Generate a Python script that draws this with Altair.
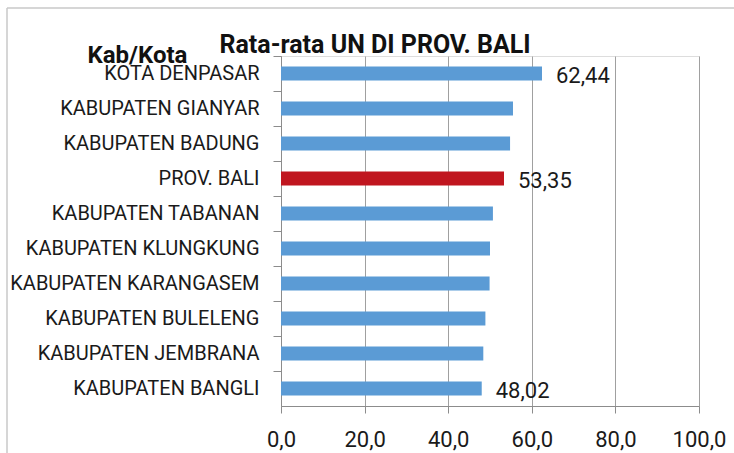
import altair as alt
import pandas as pd

# Average national exam (UN) scores per regency/city in Bali
kab_kota = [
    "KOTA DENPASAR",
    "KABUPATEN GIANYAR",
    "KABUPATEN BADUNG",
    "PROV. BALI",
    "KABUPATEN TABANAN",
    "KABUPATEN KLUNGKUNG",
    "KABUPATEN KARANGASEM",
    "KABUPATEN BULELENG",
    "KABUPATEN JEMBRANA",
    "KABUPATEN BANGLI",
]
rata_rata = [62.44, 55.5, 54.8, 53.35, 50.7, 50.0, 49.9, 48.9, 48.4, 48.02]
tampil_label = [True, False, False, True, False, False, False, False, False, True]
judul = "Rata-rata UN DI PROV. BALI"

df = pd.DataFrame({"kab": kab_kota, "nilai": rata_rata, "label": tampil_label})
df["jenis"] = ["prov" if k == "PROV. BALI" else "kab" for k in kab_kota]
satu = alt.Data(values=[{}])  # single row for decorations

FONT = "Roboto"

y_enc = alt.Y(
    "kab:N",
    sort=kab_kota,
    scale=alt.Scale(paddingInner=0, paddingOuter=0),
    axis=alt.Axis(
        title="Kab/Kota",
        titleAngle=0,
        titleAlign="left",
        titleBaseline="alphabetic",
        titleX=-194,
        titleY=6,
        titleFont=FONT,
        titleFontSize=24,
        titleFontWeight="bold",
        titleColor="#111111",
        labelFont=FONT,
        labelFontSize=20,
        labelColor="#1a1a1a",
        labelPadding=14,
        tickSize=8,
        tickColor="#8c8c8c",
        domainColor="#8c8c8c",
        bandPosition=0,
        labelLimit=400,
    ),
)

x_enc = alt.X(
    "nilai:Q",
    scale=alt.Scale(domain=[0, 100], nice=False),
    axis=alt.Axis(
        title=None,
        values=[0, 20, 40, 60, 80, 100],
        labelExpr="replace(format(datum.value, '.1f'), '.', ',')",
        labelFont=FONT,
        labelFontSize=22,
        labelColor="#1a1a1a",
        labelPadding=16,
        labelFlush=False,
        tickSize=7,
        tickColor="#8c8c8c",
        domainColor="#8c8c8c",
        grid=True,
        gridColor="#a0a0a0",
        gridWidth=1,
    ),
)

bars = alt.Chart(df).mark_bar(size=14).encode(
    x=x_enc,
    y=y_enc,
    color=alt.Color(
        "jenis:N",
        scale=alt.Scale(domain=["kab", "prov"], range=["#5b9bd5", "#c0161f"]),
        legend=None,
    ),
)

labels = (
    alt.Chart(df)
    .transform_filter("datum.label")
    .transform_calculate(teks="replace(format(datum.nilai, '.2f'), '.', ',')")
    .mark_text(align="left", baseline="middle", dx=14, dy=2, font=FONT, fontSize=22, color="#1a1a1a")
    .encode(x="nilai:Q", y=alt.Y("kab:N", sort=kab_kota), text="teks:N")
)

# chart heading, centred over the bars
heading = alt.Chart(satu).mark_text(
    text=judul,
    align="center",
    baseline="alphabetic",
    font=FONT,
    fontSize=25,
    fontWeight="bold",
    color="#111111",
).encode(x=alt.value(94), y=alt.value(-3))

# light frame around the whole chart
frame_left = alt.Chart(satu).mark_rule(color="#c8c8c8", strokeWidth=1.5).encode(
    x=alt.value(-274), y=alt.value(-48), y2=alt.value(400)
)
frame_top = alt.Chart(satu).mark_rule(color="#c8c8c8", strokeWidth=1.5).encode(
    x=alt.value(-274), x2=alt.value(460), y=alt.value(-48)
)

chart = (
    alt.layer(frame_left, frame_top, bars, labels, heading)
    .properties(
        width=418,
        height=350,
        padding={"left": 281, "top": 56, "right": 35, "bottom": 47},
        autosize=alt.AutoSizeParams(type="none"),
    )
    .configure_view(stroke=None)
    .configure(background="white")
)

chart.save("out.html", embed_options={"renderer": "svg", "actions": False})
